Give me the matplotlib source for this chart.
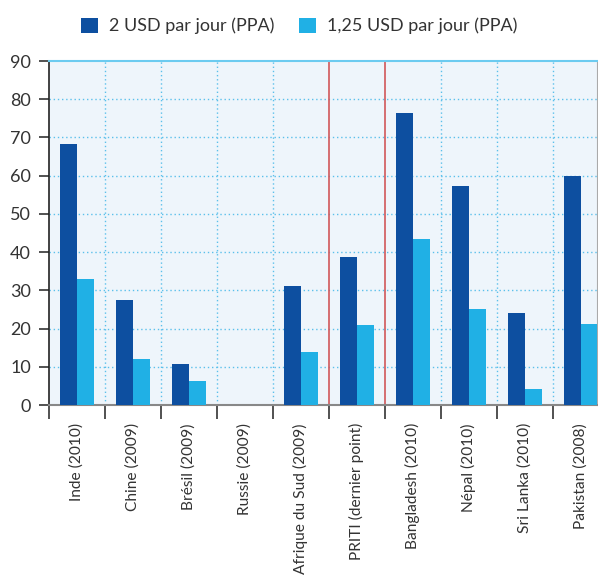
import matplotlib.pyplot as plt
import numpy as np

plt.rcParams['font.family'] = ['Lato', 'DejaVu Sans']

pays = ["Inde (2010)", "Chine (2009)", "Brésil (2009)", "Russie (2009)",
        "Afrique du Sud (2009)", "PRITI (dernier point)", "Bangladesh (2010)",
        "Népal (2010)", "Sri Lanka (2010)", "Pakistan (2008)"]
usd_2 = [68.3, 27.5, 10.7, 0, 31.2, 38.7, 76.4, 57.3, 24.1, 60.0]
usd_125 = [33.0, 12.0, 6.3, 0, 13.9, 20.9, 43.5, 25.1, 4.2, 21.2]

dark = "#0D4FA0"
light = "#20B0E5"
txt = "#333333"

fig = plt.figure(figsize=(5.98, 5.75), dpi=100)
ax = fig.add_axes([49/598, 1 - 405/575, 548/598, 344/575])
ax.set_facecolor("#EEF5FB")

x = np.arange(len(pays))
w = 0.30
ax.bar(x - w/2, usd_2, w, color=dark, label="2 USD par jour (PPA)", zorder=3)
ax.bar(x + w/2, usd_125, w, color=light, label="1,25 USD par jour (PPA)", zorder=3)

ax.set_xlim(-0.5, 9.29)
ax.set_ylim(0, 90)

# horizontal dotted grid
for v in range(10, 90, 10):
    ax.axhline(v, color="#5BC0EB", lw=1, ls=(0, (1, 2)), zorder=1)
# vertical separators
for b in np.arange(0.5, 9, 1.0):
    if b in (4.5, 5.5):
        ax.axvline(b, color="#D0575A", lw=1.2, zorder=2)
    else:
        ax.axvline(b, color="#5BC0EB", lw=1, ls=(0, (1, 2)), zorder=1)

ax.set_yticks(range(0, 91, 10))
ax.tick_params(axis='y', direction='out', length=7, width=1.2, color="#333333",
               labelsize=13, labelcolor=txt, pad=6)

ax.set_xticks(np.arange(-0.5, 9, 1.0))
ax.set_xticklabels([])
ax.tick_params(axis='x', which='major', direction='out', length=10, width=1.2, color="#333333")
ax.set_xticks(x, minor=True)
ax.set_xticklabels(pays, minor=True, rotation=90, fontsize=11.2, color=txt)
ax.tick_params(axis='x', which='minor', length=0, pad=13)

ax.spines['left'].set_color("#222222")
ax.spines['left'].set_linewidth(1.2)
ax.spines['bottom'].set_color("#888888")
ax.spines['bottom'].set_linewidth(1.5)
ax.spines['right'].set_color("#AAAAAA")
ax.spines['top'].set_color("#6CCBF0")
ax.spines['top'].set_linewidth(1.5)

fig.legend(loc='center', bbox_to_anchor=(0.5, 1 - 26/575), ncol=2, frameon=False,
           fontsize=13, handlelength=0.95, handleheight=0.95, handletextpad=0.6,
           columnspacing=1.35, labelcolor=txt)

fig.savefig("out.png", dpi=100)
